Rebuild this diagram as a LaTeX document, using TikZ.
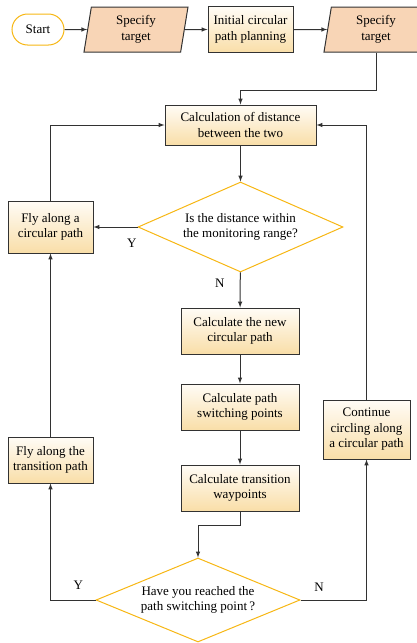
\documentclass[tikz,border=0pt]{standalone}
\usepackage{fontspec}
\setmainfont{Liberation Serif}
\usepackage{tikz}
\usetikzlibrary{shapes,shapes.geometric,arrows,positioning}
\definecolor{gold}{RGB}{247,183,20}
\definecolor{peach}{RGB}{248,213,182}
\definecolor{boxtop}{RGB}{255,252,246}
\definecolor{boxbot}{RGB}{249,222,168}
\definecolor{edge}{RGB}{50,50,50}
\tikzset{
  term/.style={rectangle, rounded corners=15.5pt, draw=gold, fill=white, line width=1pt, minimum width=52pt, minimum height=31pt, inner sep=0pt},
  io_n/.style={trapezium, trapezium left angle=75, trapezium right angle=105, trapezium stretches body, draw=edge, fill=peach, line width=1pt, minimum width=104pt, minimum height=45pt, inner sep=0pt, align=center},
  box/.style={rectangle, draw=edge, line width=1pt, top color=boxtop, bottom color=boxbot, align=center, inner sep=0pt, minimum height=46pt},
  dec_n/.style={diamond, draw=gold, fill=white, line width=1pt, aspect=2.28, inner sep=0pt, minimum width=205pt, minimum height=90pt, align=center},
  line/.style={draw=edge, line width=1pt},
  arr/.style={line, -latex}
}

\begin{document}
\begin{tikzpicture}[x=1pt, y=-1pt, font=\fontsize{13}{15.5}\selectfont]
	\useasboundingbox (0,0) rectangle (417,643);
	\node[term] (start) at (38,29.5) {Start};
	\node[io_n] (tgt1) at (136,29.5) {Specify\\target};
	\node[box, minimum width=85pt] (init) at (250.5,29.5) {Initial circular\\path planning};
	\node[io_n] (tgt2) at (376,29.5) {Specify\\target};
	\node[box, minimum width=151pt, minimum height=40pt] (dist) at (240.5,125) {Calculation of distance\\between the two};
	\node[dec_n] (inrange) at (240.5,227) {Is the distance within\\the monitoring range?};
	\node[box, minimum width=85pt, minimum height=52pt] (flycirc) at (50.5,227) {Fly along a\\circular path};
	\node[box, minimum width=118pt] (newpath) at (240,331) {Calculate the new\\circular path};
	\node[box, minimum width=118pt] (switchpt) at (240,407) {Calculate path\\switching points};
	\node[box, minimum width=118pt] (waypt) at (240,488) {Calculate transition\\waypoints};
	\node[dec_n, minimum width=204pt, minimum height=84pt] (reached) at (198,600) {Have you reached the\\path switching point\,?};
	\node[box, minimum width=85pt] (flytrans) at (50.5,460) {Fly along the\\transition path};
	\node[box, minimum width=87pt, minimum height=59pt] (circling) at (366.5,429.5) {Continue\\circling along\\a circular path};

	\draw[arr] (start) -- (tgt1);
	\draw[arr] (tgt1) -- (init);
	\draw[arr] (init) -- (tgt2);
	\draw[arr] (tgt2.south) -- ++(0,38) -| (dist.north);
	\draw[arr] (dist) -- (inrange);
	\draw[arr] (inrange) -- node[pos=0.13, below=8pt] (lbly1) {Y} (flycirc);
	\draw[arr] (inrange) -- node[pos=0.3, left=12pt] (lbln1) {N} (newpath);
	\draw[arr] (newpath) -- (switchpt);
	\draw[arr] (switchpt) -- (waypt);
	\draw[arr] (waypt.south) -- ++(0,14) -| (reached.north);
	\draw[arr] (reached.west) -| node[pos=0.19, above=7pt] (lbly2) {Y} (flytrans.south);
	\draw[arr] (reached.east) -| node[pos=0.14, above=5pt] (lbln2) {N} (circling.south);
	\draw[arr] (flytrans) -- (flycirc);
	\draw[arr] (flycirc.north) |- (dist.west);
	\draw[arr] (circling.north) |- (dist.east);
\end{tikzpicture}
\end{document}
